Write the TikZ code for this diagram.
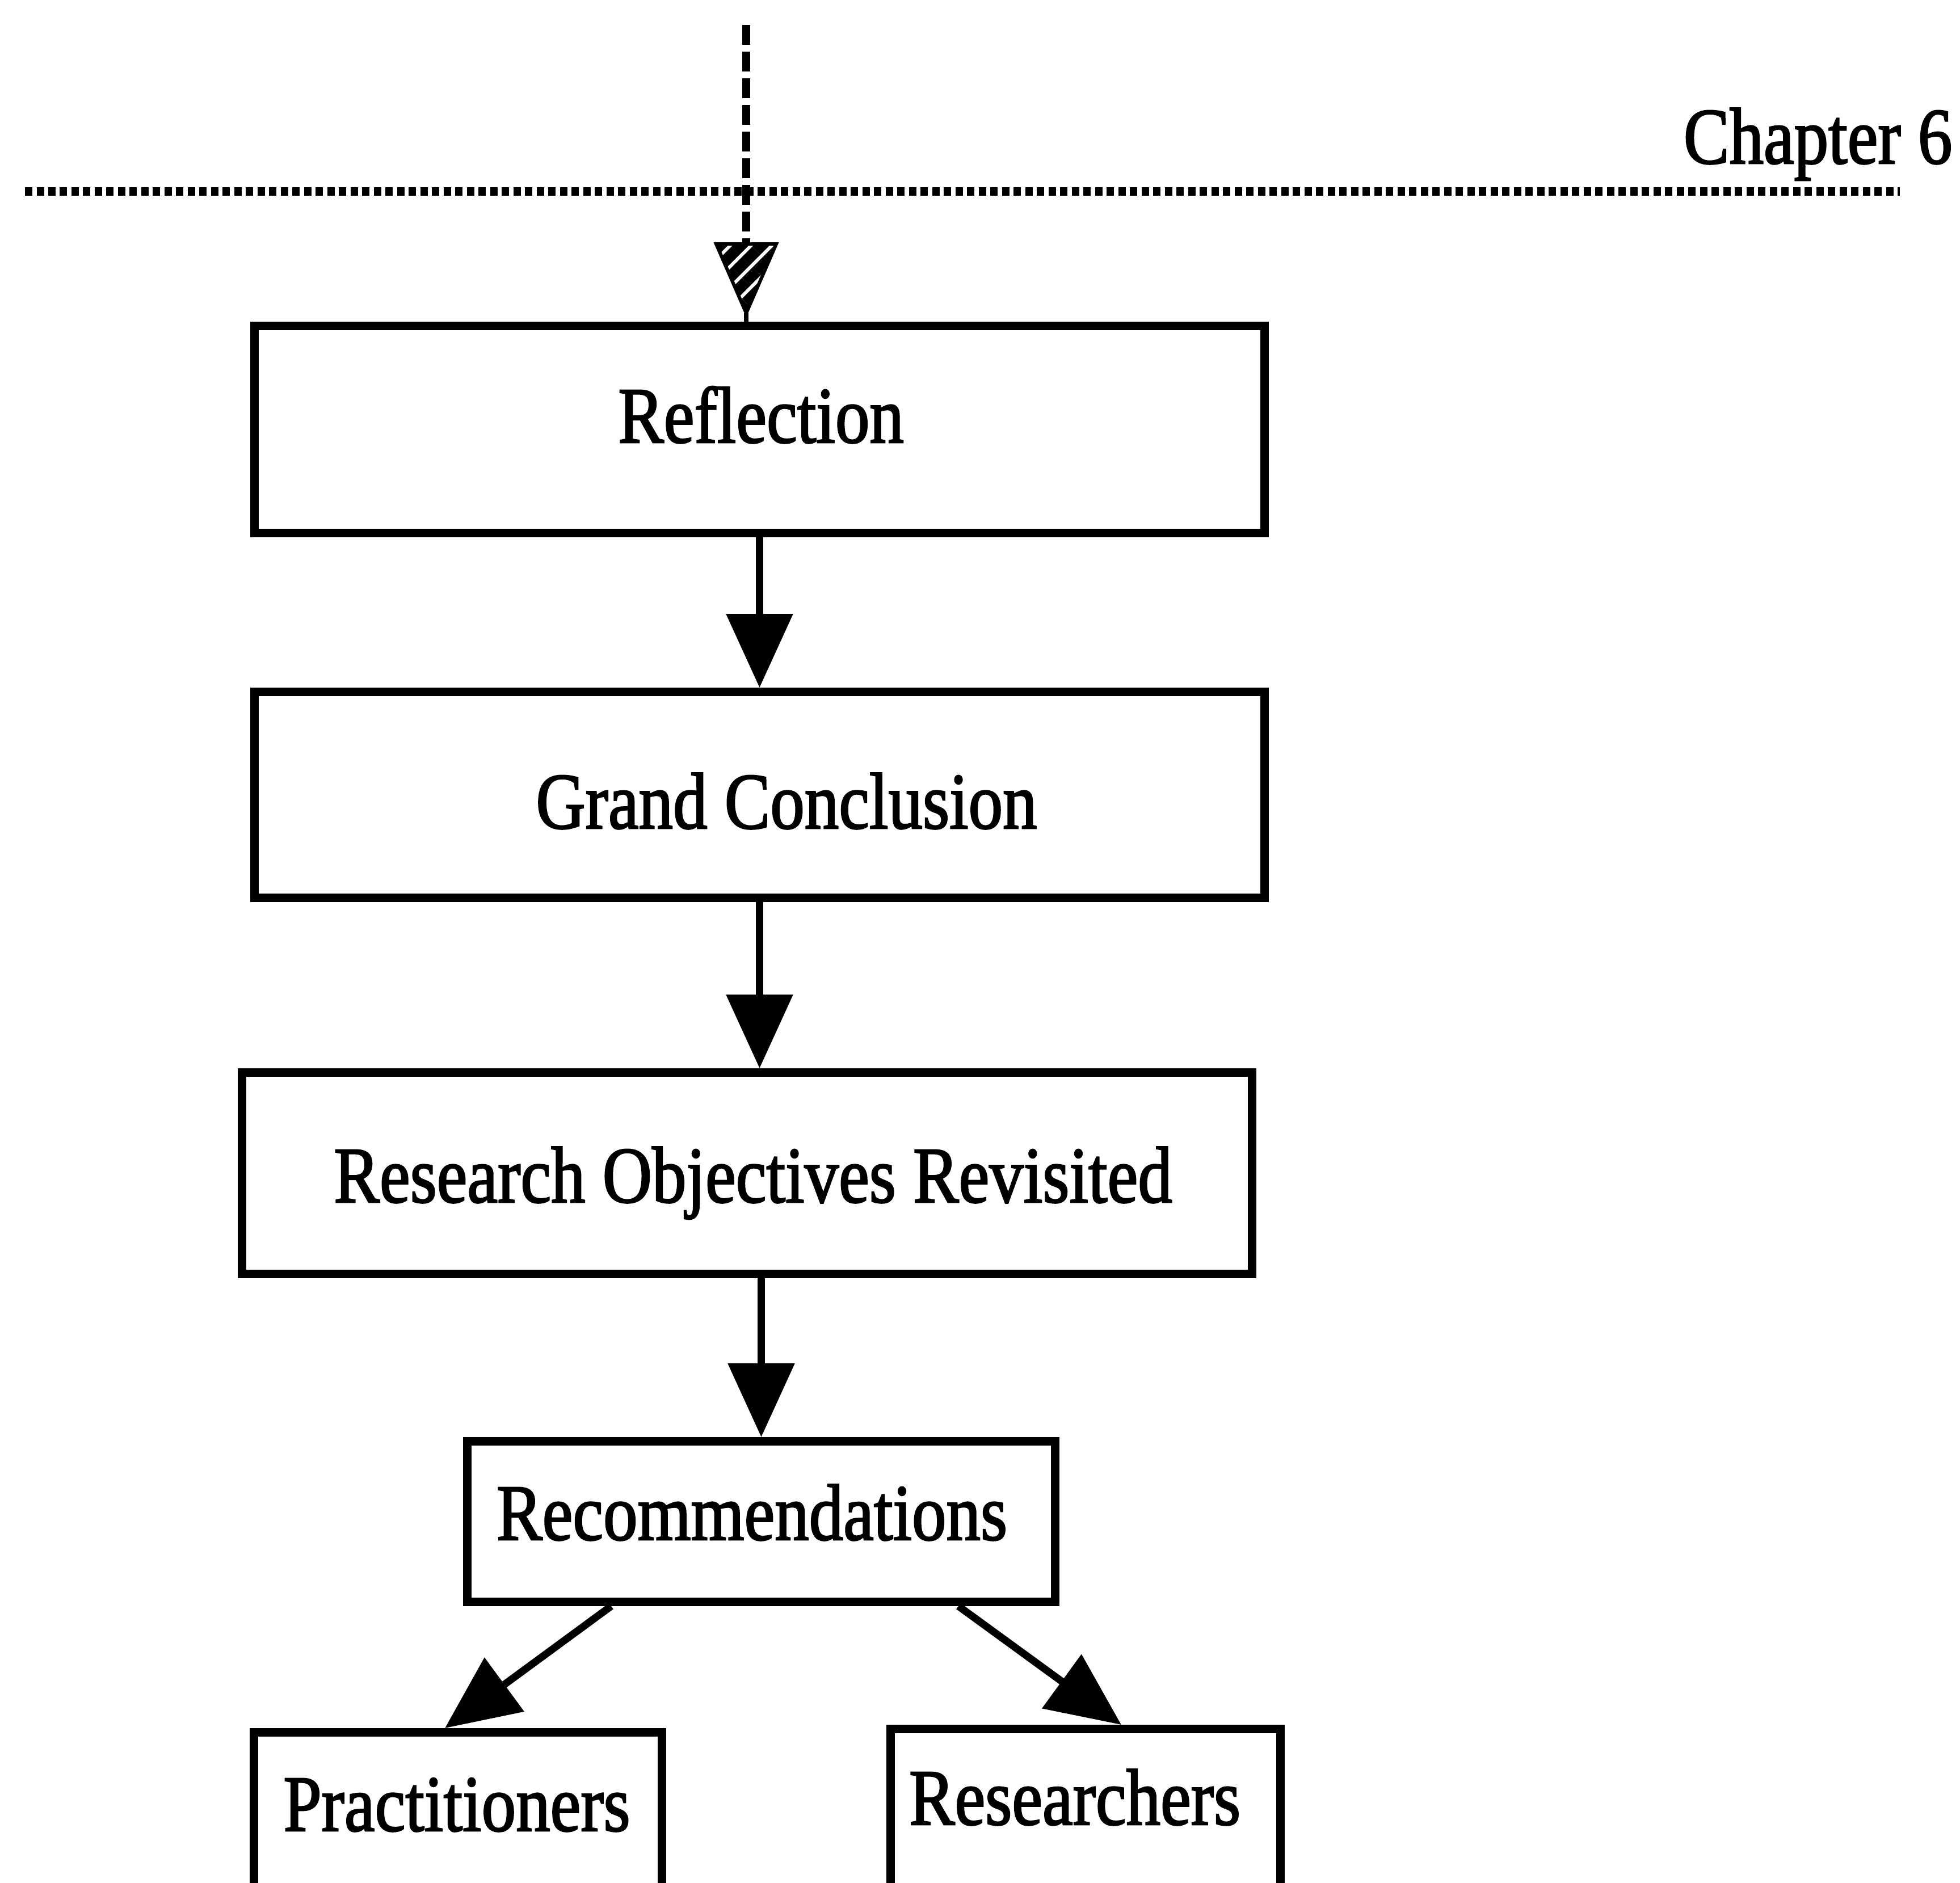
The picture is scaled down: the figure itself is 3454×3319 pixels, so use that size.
\documentclass[tikz,border=0pt]{standalone}
\usepackage{fontspec}
\setmainfont{Liberation Serif}
\newfontfamily\labelfont[FakeBold=2]{Liberation Serif}
\usetikzlibrary{arrows.meta,patterns.meta}

\tikzset{
  box/.style={draw, line width=1.5mm, rectangle, inner sep=0pt},
  lab/.style={inner sep=0pt, anchor=base, font=\labelfont\fontsize{40}{48}\selectfont},
  arr/.style={line width=1.3mm, -{Triangle[width=11.5mm,length=13mm]}},
  dotline/.style={line width=1.5mm, dash pattern=on 1.3mm off 0.75mm},
  dashline/.style={line width=1.4mm, dash pattern=on 3.5mm off 1.2mm},
}
\newcommand{\cond}[1]{\scalebox{0.86}[1]{#1}}

\begin{document}
\begin{tikzpicture}[x=0.1mm, y=-0.1mm]
  \useasboundingbox (0,0) rectangle (3454,3319);
  \clip (0,0) rectangle (3454,3319);

  % page header
  \node[lab, anchor=base east] (chap) at (3441,288) {\cond{Chapter 6}};
  \coordinate (dl) at (44,337);
  \coordinate (dr) at (3348,337);
  \draw[dotline] (dl) -- (dr);

  % boxes
  \node[box, minimum width=178.0mm, minimum height=36.5mm] (refl) at (1338.5,757) {};
  \node[box, minimum width=178.0mm, minimum height=36.3mm] (gc)   at (1338.5,1401) {};
  \node[box, minimum width=178.0mm, minimum height=35.5mm] (ro)   at (1316.5,2068) {};
  \node[box, minimum width=103.6mm, minimum height=28.3mm] (rec)  at (1341.5,2682) {};
  \node[box, minimum width=71.9mm,  minimum height=43.9mm] (prac) at (807,3273) {};
  \node[box, minimum width=68.7mm,  minimum height=44.5mm] (res)  at (1913,3270) {};

  % labels
  \node[lab] (reflT) at (1341,780)  {\cond{Reflection}};
  \node[lab] (gcT)   at (1386,1460) {\cond{Grand Conclusion}};
  \node[lab] (roT)   at (1327,2119) {\cond{Research Objectives Revisited}};
  \node[lab] (recT)  at (1325,2714) {\cond{Recommendations}};
  \node[lab] (pracT) at (805,3227)  {\cond{Practitioners}};
  \node[lab] (resT)  at (1894,3216) {\cond{Researchers}};

  % incoming dashed arrow with hatched head
  \coordinate (din) at (1315,44);
  \coordinate (dhead) at (1315,430);
  \draw[dashline] (din) -- (dhead);
  \filldraw[line width=0.6mm, pattern={Lines[angle=45,distance=2.6mm,line width=2.0mm]}]
    (1262,430) -- (1368,430) -- (1315,552) -- cycle;
  \draw[line width=0.8mm] (1315,552) -- (refl.north -| dhead);

  % flow arrows
  \draw[arr] (refl.south) -- (gc.north);
  \draw[arr] (gc.south) -- (gc.south |- ro.north);
  \draw[arr] (ro.south -| rec.north) -- (rec.north);
  \draw[arr] ([xshift=26.1mm]rec.south west) -- ([xshift=34.4mm]prac.north west);
  \draw[arr] ([xshift=87.3mm]rec.south west) -- ([xshift=41.4mm]res.north west);
\end{tikzpicture}
\end{document}
